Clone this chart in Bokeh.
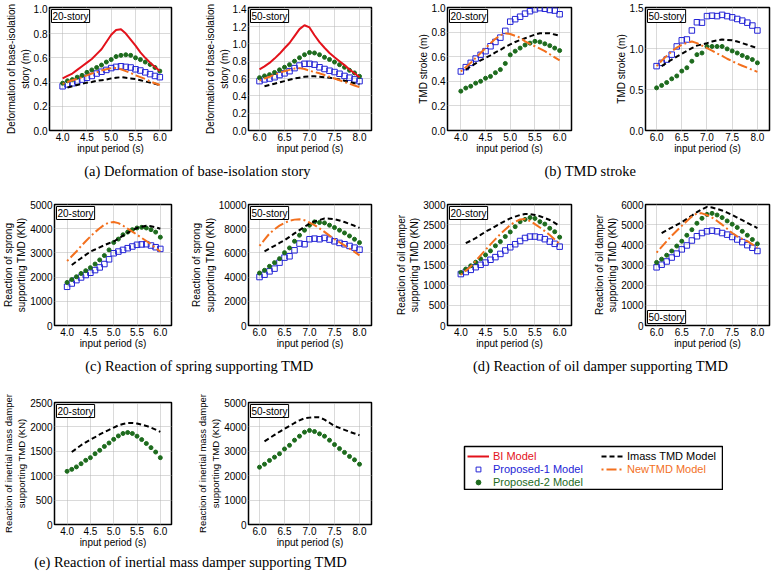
from bokeh.plotting import figure
from bokeh.layouts import row, column
from bokeh.models import (Range1d, FixedTicker, PrintfTickFormatter, Label,
                          Legend, LegendItem, Spacer)
from bokeh.embed import file_html
from bokeh.resources import INLINE
from bokeh.core.properties import value

# ---------------- data ----------------
x20 = [4.0, 4.1, 4.2, 4.3, 4.4, 4.5, 4.6, 4.7, 4.8, 4.9, 5.0,
       5.1, 5.2, 5.3, 5.4, 5.5, 5.6, 5.7, 5.8, 5.9, 6.0]
x50 = [6.0, 6.1, 6.2, 6.3, 6.4, 6.5, 6.6, 6.7, 6.8, 6.9, 7.0,
       7.1, 7.2, 7.3, 7.4, 7.5, 7.6, 7.7, 7.8, 7.9, 8.0]
x20_imass = x20[1:]
x50_imass = x50[1:]
xticks20 = [4.0, 4.5, 5.0, 5.5, 6.0]
xticks50 = [6.0, 6.5, 7.0, 7.5, 8.0]

# (a) deformation of base-isolation story (m)
bi_a20 = [0.43, 0.45, 0.47, 0.50, 0.53, 0.56, 0.59, 0.63, 0.67, 0.73, 0.79,
          0.83, 0.835, 0.80, 0.75, 0.70, 0.645, 0.60, 0.56, 0.525, 0.49]
p1_a20 = [0.365, 0.38, 0.39, 0.405, 0.42, 0.435, 0.45, 0.47, 0.485, 0.50, 0.515,
          0.525, 0.53, 0.525, 0.52, 0.505, 0.495, 0.48, 0.465, 0.45, 0.44]
p2_a20 = [0.39, 0.41, 0.42, 0.44, 0.455, 0.48, 0.50, 0.52, 0.54, 0.565, 0.585,
          0.61, 0.62, 0.625, 0.62, 0.60, 0.585, 0.565, 0.545, 0.52, 0.49]
im_a20 = [0.355, 0.365, 0.375, 0.385, 0.395, 0.40, 0.41, 0.415, 0.42, 0.43,
          0.435, 0.44, 0.435, 0.43, 0.425, 0.415, 0.405, 0.395, 0.385, 0.375]
new_a20 = [0.385, 0.40, 0.415, 0.425, 0.44, 0.455, 0.47, 0.48, 0.495, 0.505, 0.515,
           0.515, 0.505, 0.49, 0.475, 0.455, 0.44, 0.425, 0.405, 0.39, 0.375]

bi_a50 = [0.705, 0.74, 0.78, 0.83, 0.885, 0.95, 1.01, 1.09, 1.17, 1.215, 1.19,
          1.10, 1.02, 0.955, 0.895, 0.845, 0.80, 0.755, 0.705, 0.66, 0.615]
p1_a50 = [0.57, 0.59, 0.60, 0.615, 0.64, 0.66, 0.685, 0.72, 0.75, 0.77, 0.77,
          0.76, 0.73, 0.71, 0.69, 0.675, 0.655, 0.63, 0.61, 0.59, 0.57]
p2_a50 = [0.61, 0.63, 0.645, 0.67, 0.70, 0.73, 0.76, 0.80, 0.84, 0.875, 0.90,
          0.895, 0.875, 0.845, 0.82, 0.79, 0.76, 0.73, 0.695, 0.665, 0.625]
im_a50 = [0.51, 0.525, 0.54, 0.555, 0.57, 0.585, 0.60, 0.61, 0.62, 0.625,
          0.625, 0.62, 0.615, 0.61, 0.60, 0.59, 0.575, 0.56, 0.545, 0.53]
new_a50 = [0.575, 0.60, 0.62, 0.645, 0.665, 0.685, 0.70, 0.715, 0.72, 0.71, 0.69,
           0.675, 0.66, 0.64, 0.62, 0.60, 0.58, 0.56, 0.54, 0.52, 0.50]

# (b) TMD stroke (m)
p1_b20 = [0.48, 0.515, 0.55, 0.585, 0.615, 0.645, 0.685, 0.72, 0.755, 0.81, 0.885,
          0.905, 0.925, 0.95, 0.97, 0.985, 0.995, 0.99, 0.98, 0.975, 0.945]
p2_b20 = [0.32, 0.345, 0.36, 0.385, 0.40, 0.425, 0.44, 0.47, 0.495, 0.545, 0.615,
          0.645, 0.67, 0.695, 0.71, 0.725, 0.72, 0.705, 0.69, 0.67, 0.65]
im_b20 = [0.495, 0.52, 0.545, 0.57, 0.59, 0.61, 0.635, 0.655, 0.68, 0.70,
          0.72, 0.735, 0.75, 0.765, 0.78, 0.79, 0.79, 0.79, 0.78, 0.77]
new_b20 = [0.48, 0.515, 0.55, 0.59, 0.63, 0.67, 0.71, 0.745, 0.775, 0.79, 0.785,
           0.77, 0.755, 0.725, 0.705, 0.685, 0.665, 0.645, 0.62, 0.595, 0.57]

p1_b50 = [0.785, 0.825, 0.865, 0.925, 1.025, 1.10, 1.11, 1.22, 1.32, 1.315, 1.395,
          1.40, 1.395, 1.41, 1.395, 1.38, 1.36, 1.34, 1.315, 1.28, 1.22]
p2_b50 = [0.52, 0.55, 0.585, 0.63, 0.665, 0.725, 0.765, 0.845, 0.925, 0.945, 1.025,
          1.025, 1.025, 1.025, 0.995, 0.97, 0.945, 0.915, 0.89, 0.865, 0.825]
im_b50 = [0.785, 0.825, 0.865, 0.90, 0.935, 0.97, 1.005, 1.035, 1.05, 1.065,
          1.085, 1.10, 1.11, 1.105, 1.10, 1.085, 1.065, 1.045, 1.025, 1.005]
new_b50 = [0.785, 0.85, 0.91, 0.965, 1.01, 1.045, 1.07, 1.085, 1.065, 1.035, 1.005,
           0.975, 0.94, 0.91, 0.875, 0.845, 0.815, 0.79, 0.765, 0.74, 0.715]

# (c) reaction of spring supporting TMD (kN)
p1_c20 = [1600, 1735, 1875, 1985, 2085, 2180, 2290, 2400, 2540, 2735, 2985,
          3055, 3125, 3195, 3265, 3335, 3350, 3360, 3305, 3235, 3165]
p2_c20 = [1780, 1900, 2015, 2150, 2265, 2390, 2540, 2710, 2890, 3125, 3430,
          3570, 3750, 3860, 3960, 4030, 4055, 4030, 3960, 3860, 3650]
im_c20 = [2500, 2640, 2780, 2920, 3055, 3140, 3230, 3320, 3400, 3470,
          3590, 3710, 3830, 3940, 4030, 4080, 4125, 4100, 4060, 4000]
new_c20 = [2665, 2860, 3055, 3280, 3480, 3680, 3860, 4020, 4165, 4250, 4280,
           4230, 4125, 4000, 3880, 3750, 3620, 3490, 3360, 3200, 3055]

p1_c50 = [4005, 4200, 4475, 4700, 5195, 5610, 5720, 6215, 6770, 6715, 7130,
          7180, 7130, 7240, 7100, 6960, 6825, 6715, 6575, 6435, 6270]
p2_c50 = [4335, 4560, 4890, 5195, 5525, 6020, 6410, 6960, 7460, 7875, 8290,
          8565, 8510, 8480, 8290, 8095, 7875, 7650, 7400, 7130, 6850]
im_c50 = [6130, 6360, 6590, 6820, 7045, 7330, 7610, 7880, 8150, 8425,
          8600, 8720, 8840, 8830, 8785, 8680, 8550, 8400, 8240, 8065]
new_c50 = [6575, 7100, 7600, 7950, 8250, 8480, 8650, 8750, 8785, 8700, 8510,
           8300, 8030, 7735, 7430, 7130, 6880, 6620, 6355, 6080, 5800]

# (d) reaction of oil damper supporting TMD (kN)
p1_d20 = [1275, 1325, 1380, 1445, 1505, 1560, 1630, 1695, 1775, 1860, 1940,
          2015, 2095, 2170, 2205, 2205, 2185, 2140, 2080, 2025, 1955]
p2_d20 = [1315, 1400, 1480, 1570, 1655, 1750, 1850, 1975, 2080, 2205, 2320,
          2450, 2575, 2630, 2675, 2655, 2575, 2515, 2410, 2325, 2190]
im_d20 = [2040, 2100, 2165, 2245, 2325, 2390, 2460, 2530, 2595, 2655,
          2700, 2740, 2765, 2760, 2740, 2710, 2665, 2615, 2545, 2465]
new_d20 = [1260, 1360, 1465, 1600, 1740, 1875, 2010, 2140, 2270, 2380, 2490,
           2570, 2630, 2640, 2590, 2515, 2430, 2340, 2245, 2135, 2025]

p1_d50 = [2885, 3015, 3175, 3370, 3565, 3775, 3970, 4215, 4425, 4585, 4670,
          4700, 4670, 4585, 4505, 4390, 4265, 4135, 3985, 3855, 3695]
p2_d50 = [3130, 3290, 3485, 3695, 3940, 4180, 4475, 4750, 5070, 5315, 5510,
          5560, 5480, 5350, 5185, 5025, 4860, 4670, 4475, 4265, 4050]
im_d50 = [4585, 4720, 4855, 4990, 5125, 5290, 5450, 5620, 5760, 5885,
          5850, 5780, 5700, 5600, 5480, 5350, 5220, 5090, 4960, 4830]
new_d50 = [3615, 3900, 4180, 4450, 4700, 4945, 5180, 5400, 5560, 5560, 5480,
           5350, 5185, 5000, 4800, 4585, 4420, 4300, 4180, 4020, 3855]

# (e) reaction of inertial mass damper supporting TMD (kN)
p2_e20 = [1090, 1130, 1180, 1245, 1315, 1370, 1450, 1520, 1600, 1670, 1745,
          1815, 1865, 1885, 1865, 1810, 1740, 1660, 1575, 1485, 1370]
im_e20 = [1485, 1555, 1625, 1685, 1740, 1790, 1845, 1895, 1940, 1985,
          2030, 2060, 2080, 2080, 2070, 2045, 2020, 1985, 1945, 1900]
p2_e50 = [2350, 2470, 2625, 2760, 2900, 3095, 3245, 3455, 3620, 3785, 3855,
          3810, 3715, 3620, 3455, 3275, 3110, 2955, 2790, 2650, 2470]
im_e50 = [3410, 3540, 3670, 3800, 3920, 4040, 4160, 4270, 4350, 4380,
          4400, 4390, 4300, 4170, 4035, 3960, 3880, 3800, 3730, 3660]

# y ticks
yt_a20 = [0.0, 0.2, 0.4, 0.6, 0.8, 1.0]
yt_a50 = [0.0, 0.2, 0.4, 0.6, 0.8, 1.0, 1.2, 1.4]
yt_b20 = [0.0, 0.2, 0.4, 0.6, 0.8, 1.0]
yt_b50 = [0.0, 0.5, 1.0, 1.5]
yt_c20 = [0, 1000, 2000, 3000, 4000, 5000]
yt_c50 = [0, 2000, 4000, 6000, 8000, 10000]
yt_d20 = [0, 500, 1000, 1500, 2000, 2500, 3000]
yt_d50 = [0, 1000, 2000, 3000, 4000, 5000, 6000]
yt_e20 = [0, 500, 1000, 1500, 2000, 2500]
yt_e50 = [0, 1000, 2000, 3000, 4000, 5000]

captions = ["(a) Deformation of base-isolation story", "(b) TMD stroke",
            "(c) Reaction of spring supporting TMD",
            "(d) Reaction of oil damper supporting TMD",
            "(e) Reaction of inertial mass damper supporting TMD"]
legend_labels = ["BI Model", "Proposed-1 Model", "Proposed-2 Model",
                 "Imass TMD Model", "NewTMD Model"]

# ---------------- style ----------------
FONT = "Liberation Sans"
SERIF = "Liberation Serif"
C_BI = "#e3121b"
C_P1 = "#2424d6"
C_P2 = "#1d6b1d"
C_IM = "black"
C_NEW = "#f3701e"
DASH_IM = "5 3"
DASH_NEW = "2 3 10 3"

W = [177, 201, 197, 196]
BL = [49, 71, 69, 70]
BR = [6, 7, 4, 2]


def make_panel(col, h, bt, bb, x, xi, xr, xt, yr, yt, yfmt, ylabel, tag,
               bi=None, p1=None, p2=None, im=None, new=None,
               tag_bottom=False, ylab_size="10px"):
    p = figure(width=W[col], height=h, x_range=Range1d(*xr), y_range=Range1d(*yr),
               output_backend="svg", toolbar_location=None, title=None,
               min_border_left=BL[col], min_border_right=BR[col],
               min_border_top=bt, min_border_bottom=bb)
    p.xaxis.ticker = FixedTicker(ticks=xt)
    p.yaxis.ticker = FixedTicker(ticks=yt)
    p.xaxis.formatter = PrintfTickFormatter(format="%.1f")
    p.yaxis.formatter = PrintfTickFormatter(format=yfmt)
    p.xaxis.axis_label = "input period (s)"
    p.yaxis.axis_label = ylabel
    for ax in p.axis:
        ax.axis_line_color = None
        ax.major_tick_line_color = None
        ax.minor_tick_line_color = None
        ax.major_tick_in = 0
        ax.major_tick_out = 0
        ax.minor_tick_in = 0
        ax.minor_tick_out = 0
        ax.major_label_text_font = FONT
        ax.major_label_text_font_size = "10px"
        ax.major_label_text_color = "black"
        ax.axis_label_text_font = FONT
        ax.axis_label_text_font_style = "normal"
        ax.axis_label_text_color = "black"
        ax.major_label_standoff = 2
    p.xaxis.axis_label_text_font_size = "10px"
    p.yaxis.axis_label_text_font_size = ylab_size
    p.xaxis.axis_label_standoff = -1
    p.yaxis.axis_label_standoff = 0
    p.grid.grid_line_color = "#b4b4b4"
    p.grid.grid_line_dash = "1 1"
    p.outline_line_color = "black"
    p.outline_line_width = 1.5
    if p1 is not None:
        p.scatter(x, p1, marker="square", size=5.5, line_color=C_P1,
                  fill_color=None, line_width=1)
    if p2 is not None:
        p.scatter(x, p2, marker="circle", size=4, line_color=C_P2,
                  fill_color=C_P2)
    if im is not None:
        p.line(xi, im, line_color=C_IM, line_width=2, line_dash=DASH_IM)
    if new is not None:
        p.line(x, new, line_color=C_NEW, line_width=2, line_dash=DASH_NEW)
    if bi is not None:
        p.line(x, bi, line_color=C_BI, line_width=2)
    lab = Label(x=xr[0], y=(yr[0] if tag_bottom else yr[1]), text=tag,
                text_align="left", text_baseline=("bottom" if tag_bottom else "top"),
                x_offset=2, y_offset=(2 if tag_bottom else -2),
                text_font=FONT, text_font_size="10px", text_color="black",
                background_fill_color="white", border_line_color="black",
                border_line_width=1, padding=1)
    p.add_layout(lab)
    return p


def caption(text, width, height, cx):
    p = figure(width=width, height=height, x_range=Range1d(0, 1), y_range=Range1d(0, 1),
               output_backend="svg", toolbar_location=None, title=None,
               x_axis_location=None, y_axis_location=None,
               min_border=0)
    p.grid.visible = False
    p.outline_line_color = None
    p.text(x=[cx], y=[0.5], text=[text], text_font=value(SERIF),
           text_font_size="14.5px", text_align="center", text_baseline="middle",
           text_color="black")
    return p


XR20 = (3.73, 6.24)
XR50 = (5.78, 8.24)

H1, BT1, BB1 = 156, 7, 25
H2, BT2, BB2 = 167, 20, 25
H3, BT3, BB3 = 172, 23, 27

ylab_a = "Deformation of base-isolation\nstory (m)"
ylab_b = "TMD stroke (m)"
ylab_c = "Reaction of sprong\nsupporting TMD (KN)"
ylab_d = "Reaction of oil damper\nsupporting TMD (KN)"
ylab_e = "Reaction of inertial mass damper\nsupporting TMD (KN)"

a1 = make_panel(0, H1, BT1, BB1, x20, x20_imass, XR20, xticks20, (0, 1.015), yt_a20, "%.1f",
                ylab_a, "20-story", bi=bi_a20, p1=p1_a20, p2=p2_a20, im=im_a20, new=new_a20)
a2 = make_panel(1, H1, BT1, BB1, x50, x50_imass, XR50, xticks50, (0, 1.42), yt_a50, "%.1f",
                ylab_a, "50-story", bi=bi_a50, p1=p1_a50, p2=p2_a50, im=im_a50, new=new_a50)
b1 = make_panel(2, H1, BT1, BB1, x20, x20_imass, XR20, xticks20, (0, 1.0), yt_b20, "%.1f",
                ylab_b, "20-story", p1=p1_b20, p2=p2_b20, im=im_b20, new=new_b20)
b2 = make_panel(3, H1, BT1, BB1, x50, x50_imass, XR50, xticks50, (0, 1.5), yt_b50, "%.1f",
                ylab_b, "50-story", p1=p1_b50, p2=p2_b50, im=im_b50, new=new_b50)

c1 = make_panel(0, H2, BT2, BB2, x20, x20_imass, XR20, xticks20, (0, 5000), yt_c20, "%d",
                ylab_c, "20-story", p1=p1_c20, p2=p2_c20, im=im_c20, new=new_c20)
c2 = make_panel(1, H2, BT2, BB2, x50, x50_imass, XR50, xticks50, (0, 10000), yt_c50, "%d",
                ylab_c, "50-story", p1=p1_c50, p2=p2_c50, im=im_c50, new=new_c50)
d1 = make_panel(2, H2, BT2, BB2, x20, x20_imass, XR20, xticks20, (0, 3000), yt_d20, "%d",
                ylab_d, "20-story", p1=p1_d20, p2=p2_d20, im=im_d20, new=new_d20)
d2 = make_panel(3, H2, BT2, BB2, x50, x50_imass, XR50, xticks50, (0, 6000), yt_d50, "%d",
                ylab_d, "50-story", p1=p1_d50, p2=p2_d50, im=im_d50, new=new_d50,
                tag_bottom=True)

e1 = make_panel(0, H3, BT3, BB3, x20, x20_imass, XR20, xticks20, (0, 2500), yt_e20, "%d",
                ylab_e, "20-story", p2=p2_e20, im=im_e20, ylab_size="9.5px")
e2 = make_panel(1, H3, BT3, BB3, x50, x50_imass, XR50, xticks50, (0, 5000), yt_e50, "%d",
                ylab_e, "50-story", p2=p2_e50, im=im_e50, ylab_size="9.5px")

# legend box
LW, LH = 260, 45
lg = figure(width=LW, height=LH, x_range=Range1d(0, 1), y_range=Range1d(0, 1),
            output_backend="svg", toolbar_location=None, title=None,
            x_axis_location=None, y_axis_location=None, min_border=1)
lg.grid.visible = False
lg.outline_line_color = "black"
lg.outline_line_width = 1.5
# proxy renderers kept outside the visible range (only their legend glyphs show)
r_bi = lg.line(x=[-3, -2], y=[-3, -2], line_color=C_BI, line_width=2)
r_p1 = lg.scatter(x=[-3], y=[-3], marker="square", size=7, line_color=C_P1, fill_color=None)
r_p2 = lg.scatter(x=[-3], y=[-3], marker="circle", size=5, line_color=C_P2, fill_color=C_P2)
r_im = lg.line(x=[-3, -2], y=[-3, -2], line_color=C_IM, line_width=2, line_dash=DASH_IM)
r_new = lg.line(x=[-3, -2], y=[-3, -2], line_color=C_NEW, line_width=2, line_dash=DASH_NEW)
leg_specs = [(r_bi, legend_labels[0], C_BI, (3, 27)),
             (r_p1, legend_labels[1], C_P1, (3, 14)),
             (r_p2, legend_labels[2], C_P2, (3, 1)),
             (r_im, legend_labels[3], C_IM, (137, 27)),
             (r_new, legend_labels[4], C_NEW, (137, 14))]
for rend, lab, colr, loc in leg_specs:
    L = Legend(items=[LegendItem(label=lab, renderers=[rend])], location=loc,
               label_text_font=FONT, label_text_font_size="11px",
               label_text_color=colr, glyph_width=22, glyph_height=12,
               label_height=12, label_standoff=4, padding=0, margin=0, spacing=0,
               border_line_color=None, background_fill_alpha=0)
    lg.add_layout(L, "center")

cap_a = caption(captions[0], W[0] + W[1], 28, 0.521)
cap_b = caption(captions[1], W[2] + W[3], 28, 0.539)
cap_c = caption(captions[2], W[0] + W[1], 28, 0.526)
cap_d = caption(captions[3], W[2] + W[3], 28, 0.565)
cap_e = caption(captions[4], W[0] + W[1], 20, 0.503)

layout = column(
    row(a1, a2, b1, b2),
    row(cap_a, cap_b),
    row(c1, c2, d1, d2),
    row(cap_c, cap_d),
    row(e1, e2, Spacer(width=463 - W[0] - W[1]), column(Spacer(height=66), lg)),
    row(cap_e),
)

open("out.html", "w").write(file_html(layout, INLINE))
